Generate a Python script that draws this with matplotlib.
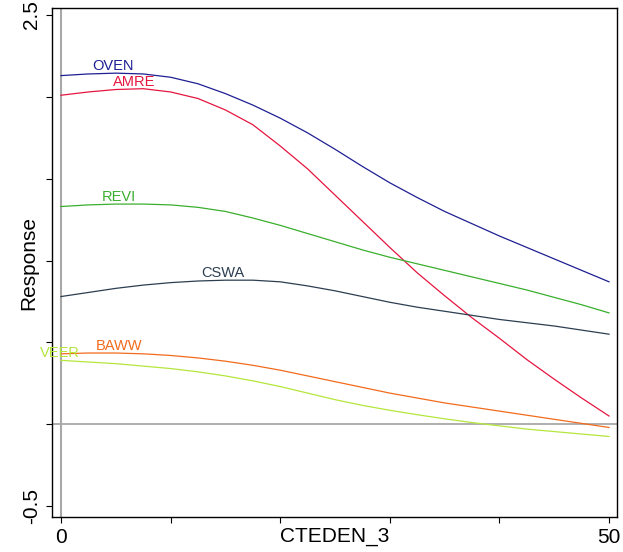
import numpy as np
import matplotlib
matplotlib.use("Agg")
from matplotlib import pyplot as plt

plt.rcParams['font.family'] = ['Liberation Sans', 'DejaVu Sans']

# response curves along CTEDEN_3
cteden = [0, 2.5, 5, 7.5, 10, 12.5, 15, 17.5, 20, 22.5, 25,
          27.5, 30, 32.5, 35, 37.5, 40, 42.5, 45, 47.5, 50]

oven = [2.13, 2.14, 2.145, 2.14, 2.12, 2.08, 2.02, 1.95, 1.87, 1.78, 1.68,
        1.575, 1.475, 1.385, 1.30, 1.225, 1.15, 1.08, 1.01, 0.94, 0.87]
amre = [2.01, 2.03, 2.045, 2.05, 2.03, 1.99, 1.92, 1.83, 1.70, 1.56, 1.40,
        1.24, 1.08, 0.925, 0.785, 0.65, 0.525, 0.395, 0.275, 0.16, 0.05]
revi = [1.33, 1.34, 1.345, 1.345, 1.34, 1.325, 1.30, 1.26, 1.215, 1.165, 1.115,
        1.065, 1.02, 0.98, 0.94, 0.90, 0.86, 0.82, 0.775, 0.73, 0.68]
cswa = [0.78, 0.805, 0.83, 0.85, 0.865, 0.875, 0.88, 0.88, 0.87, 0.845, 0.815,
        0.78, 0.745, 0.715, 0.69, 0.665, 0.64, 0.62, 0.60, 0.575, 0.55]
baww = [0.43, 0.435, 0.435, 0.43, 0.42, 0.405, 0.385, 0.36, 0.33, 0.295, 0.26,
        0.225, 0.19, 0.16, 0.13, 0.105, 0.08, 0.055, 0.03, 0.005, -0.02]
veer = [0.39, 0.38, 0.37, 0.355, 0.34, 0.32, 0.295, 0.265, 0.23, 0.19, 0.15,
        0.115, 0.085, 0.058, 0.033, 0.01, -0.01, -0.03, -0.045, -0.06, -0.075]

species = ['OVEN', 'AMRE', 'REVI', 'CSWA', 'BAWW', 'VEER']
series = [oven, amre, revi, cswa, baww, veer]
colors = ['#1f1f94', '#e5163f', '#3aaf2e', '#2c3e50', '#f26b1d', '#b5e63c']
# where along CTEDEN_3 each species name is written
label_x = [4.7, 6.7, 5.3, 14.8, 5.3, -0.1]

fig = plt.figure(figsize=(6.23, 5.52), dpi=100)
ax = fig.add_axes([0.0835, 0.0634, 0.9069, 0.9221])

ax.axhline(0, color='#a8a8a8', lw=1.3, zorder=1)
ax.axvline(0, color='#a8a8a8', lw=1.5, zorder=1)

for name, ys, c, lx in zip(species, series, colors, label_x):
    ax.plot(cteden, ys, color=c, lw=0.9, zorder=2)
    ly = np.interp(lx, cteden, ys)
    ax.annotate(name, (lx, ly), xytext=(0, 0.3),
                textcoords='offset points', ha='center', va='bottom',
                color=c, fontsize=10.5, zorder=3)

ax.set_xlim(-0.82, 50.73)
ax.set_ylim(-0.567, 2.543)
ax.set_xticks([0, 10, 20, 30, 40, 50])
ax.set_xticklabels(['0', '', '', '', '', '50'], fontsize=15)
ax.set_yticks([-0.5, 0, 0.5, 1.0, 1.5, 2.0, 2.5])
ax.set_yticklabels(['-0.5', '', '', '', '', '', '2.5'], fontsize=15,
                   rotation=90, va='center')
ax.tick_params(length=4, width=0.8, direction='out', pad=4)
for s in ax.spines.values():
    s.set_linewidth(1.0)

# axis titles sit on the same row/column as the tick labels
ax.set_xlabel('CTEDEN_3', fontsize=15, va='center')
ax.xaxis.set_label_coords(0.5, -0.039)
ax.set_ylabel('Response', fontsize=15, va='center')
ax.yaxis.set_label_coords(-0.042, 0.5)

fig.savefig('out.png', dpi=100)
